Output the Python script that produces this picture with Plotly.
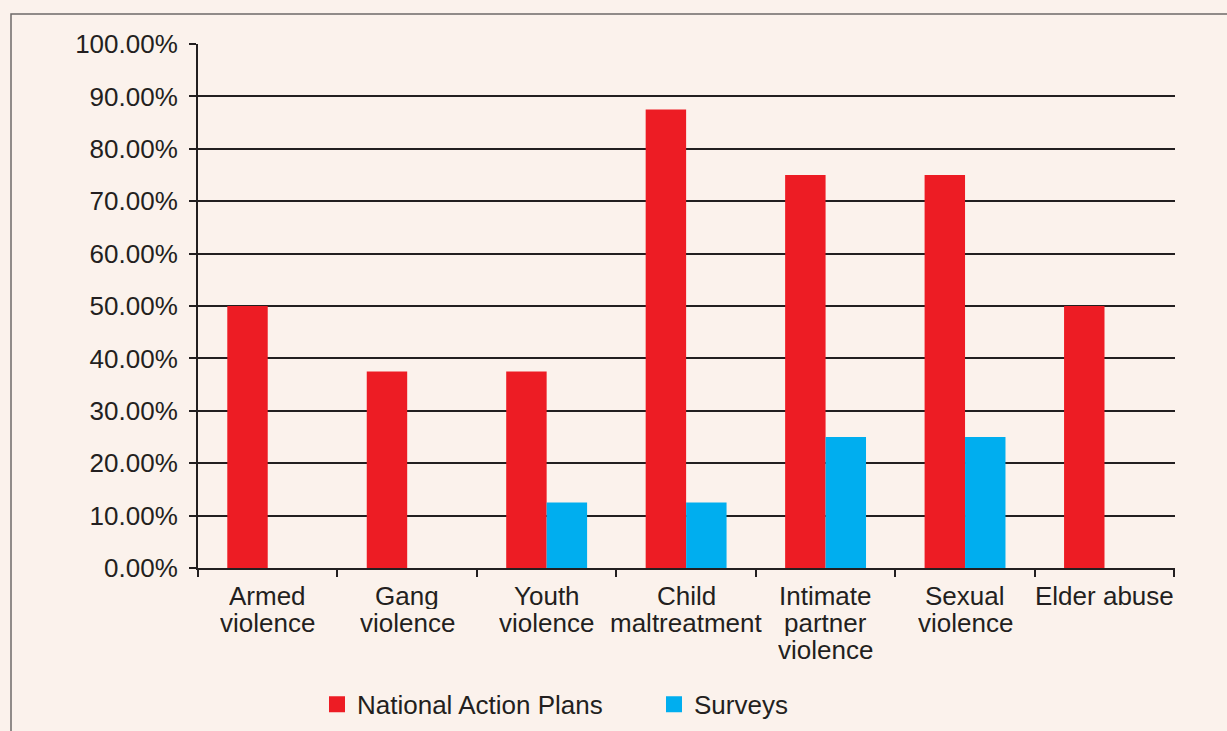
import plotly.graph_objects as go

categories = ["Armed violence", "Gang violence", "Youth violence", "Child maltreatment",
              "Intimate partner violence", "Sexual violence", "Elder abuse"]
label_lines = [["Armed", "violence"], ["Gang", "violence"], ["Youth", "violence"],
               ["Child", "maltreatment"], ["Intimate", "partner", "violence"],
               ["Sexual", "violence"], ["Elder abuse"]]
national_action_plans = [0.50, 0.375, 0.375, 0.875, 0.75, 0.75, 0.50]
surveys = [None, None, 0.125, 0.125, 0.25, 0.25, None]
y_ticks = [i / 10 for i in range(11)]

RED = "#ed1c24"
BLUE = "#00aeef"
INK = "#231f20"
BG = "#fbf2ec"
FONT = "Liberation Sans, Arial, sans-serif"

fig = go.Figure()
fig.add_trace(go.Bar(x=categories, y=national_action_plans, marker=dict(color=RED, line=dict(width=0)),
                     name="National Action Plans", showlegend=False))
fig.add_trace(go.Bar(x=categories, y=surveys, marker=dict(color=BLUE, line=dict(width=0)),
                     name="Surveys", showlegend=False))
# legend entries
fig.add_trace(go.Scatter(x=[None], y=[None], mode="markers", name="National Action Plans",
                         marker=dict(symbol="square", size=17, color=RED)))
fig.add_trace(go.Scatter(x=[None], y=[None], mode="markers", name="Surveys",
                         marker=dict(symbol="square", size=17, color=BLUE)))

annotations = []
for cat, lines in zip(categories, label_lines):
    for i, line in enumerate(lines):
        annotations.append(dict(x=cat, xref="x", y=0, yref="paper", yanchor="top",
                                yshift=-14 - 27 * i, text=line, showarrow=False,
                                height=26, valign="middle", borderpad=0,
                                font=dict(size=26, color=INK, family=FONT)))

fig.update_layout(
    width=1227, height=731,
    margin=dict(l=198, r=52, t=44, b=163, autoexpand=False),
    paper_bgcolor=BG, plot_bgcolor=BG,
    font=dict(family=FONT, size=26, color=INK),
    barmode="group", bargap=0.42, bargroupgap=0,
    showlegend=True,
    legend=dict(orientation="h", x=0.1218, xanchor="left", y=-0.26, yanchor="middle",
                bgcolor="rgba(0,0,0,0)", font=dict(size=26, color=INK, family=FONT),
                entrywidth=292, entrywidthmode="pixels"),
    annotations=annotations,
    shapes=[dict(type="rect", xref="paper", yref="paper",
                 x0=(11 - 198) / 977, x1=1.3, y0=-0.5, y1=(568 - 14) / 524,
                 line=dict(color="#6d6a68", width=1.5), fillcolor="rgba(0,0,0,0)", layer="below")],
)
fig.update_xaxes(showticklabels=False, showline=True, linecolor=INK, linewidth=2,
                 ticks="outside", tickson="boundaries", ticklen=7, tickwidth=2, tickcolor=INK,
                 showgrid=False, zeroline=False, automargin=False)
fig.update_yaxes(range=[0, 1], tickvals=y_ticks, tickformat=".2%", showline=True, linecolor=INK,
                 linewidth=2, ticks="outside", ticklen=7, tickwidth=2, tickcolor=INK,
                 showgrid=True, gridcolor=INK, gridwidth=2, zeroline=False, automargin=False,
                 tickfont=dict(size=26, color=INK, family=FONT), ticklabelstandoff=6)

fig.write_html("out.html", config={"displayModeBar": False},
               post_script="document.body.style.margin='0';document.body.style.background='#fbf2ec';")
